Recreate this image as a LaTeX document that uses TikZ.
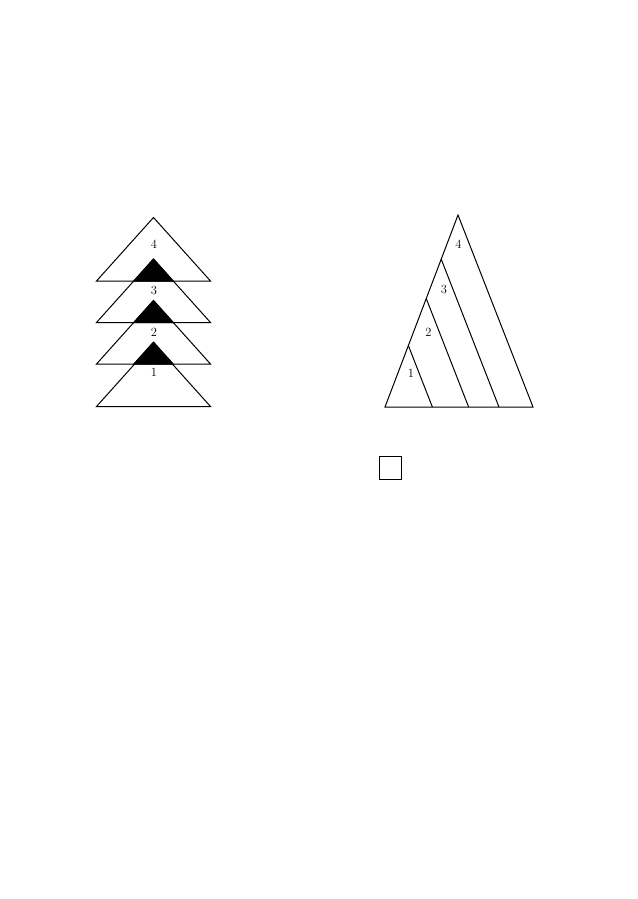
\documentclass[tikz,border=0pt]{standalone}
\usetikzlibrary{calc}
\tikzset{numlabel/.style={font=\fontsize{12.5}{14}\selectfont, inner sep=0pt}}
\begin{document}
\begin{tikzpicture}[x=1pt, y=-1pt, line width=1pt]
  \useasboundingbox (0,0) rectangle (637,899);

  % left: stacked triangles
  \foreach \yb in {281, 322.5, 364, 406.5}
  \draw (96.5, \yb) -- (153.5, \yb-63.5) -- (210.5, \yb) -- cycle;
  \foreach \yb in {281, 322.5, 364}
  \filldraw (153.5, \yb-22) -- ({153.5-22*57/63.5}, \yb) -- ({153.5+22*57/63.5}, \yb) -- cycle;

  \node[numlabel] (stackfour) at (154, 244) {4};
  \node[numlabel] (stackthree) at (154, 290.5) {3};
  \node[numlabel] (stacktwo) at (154, 332) {2};
  \node[numlabel] (stackone) at (154, 372) {1};

  % right: cut triangle
  \coordinate (apex) at (458, 215);
  \coordinate (baseleft) at (385, 407);
  \coordinate (baseright) at (533, 407);
  \draw (baseleft) -- (apex) -- (baseright) -- cycle;
  \foreach \t in {0.32, 0.565, 0.77}
  \draw ($(baseleft)!\t!(apex)$) -- ($(baseleft)!\t!(baseright)$);

  \node[numlabel] (partone) at (411, 373) {1};
  \node[numlabel] (parttwo) at (428.5, 332) {2};
  \node[numlabel] (partthree) at (444, 289) {3};
  \node[numlabel] (partfour) at (458.5, 244) {4};

  % small square
  \draw (379, 456) rectangle (401.5, 479);
\end{tikzpicture}
\end{document}
